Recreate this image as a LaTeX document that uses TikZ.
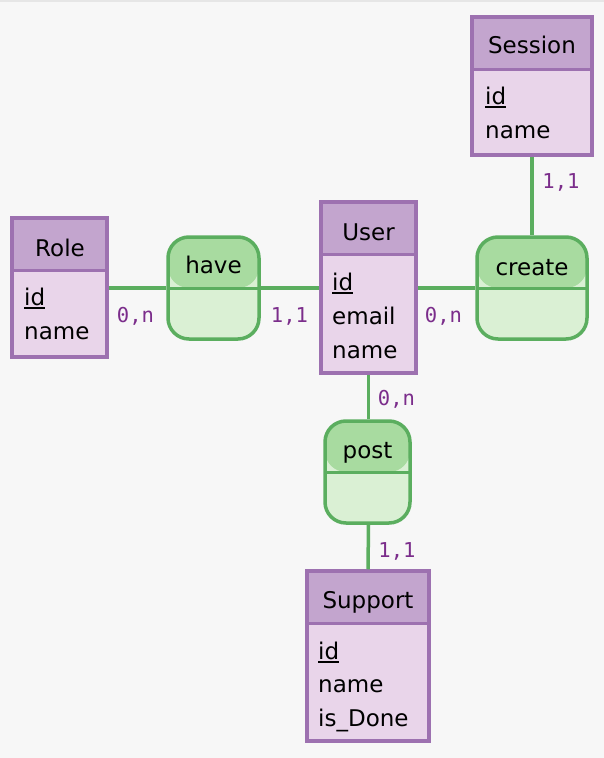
\documentclass[tikz,border=0pt]{standalone}
\usepackage{fontspec}
\setmainfont{DejaVu Sans}
\newfontfamily\monof{DejaVu Sans Mono}
\usetikzlibrary{calc}
\definecolor{bgc}{HTML}{F7F7F7}
\definecolor{bgedge}{HTML}{E6E6E6}
\definecolor{enthead}{HTML}{C3A5CE}
\definecolor{entbody}{HTML}{E9D5EA}
\definecolor{entline}{HTML}{9D71B0}
\definecolor{relhead}{HTML}{A8DBA0}
\definecolor{relbody}{HTML}{DAF0D4}
\definecolor{relline}{HTML}{5BAE5F}
\definecolor{cardc}{HTML}{7B2D8B}
\newcommand\ulid[1]{\setbox0\hbox{#1}\rlap{\rule[-3.5pt]{\wd0}{1.8pt}}\box0}
\tikzset{
  entity/.style={draw=entline, line width=3.5pt, fill=entbody, rectangle, inner sep=0pt,
    path picture={\fill[enthead] (path picture bounding box.north west) rectangle ($(path picture bounding box.north east)+(0,52)$);
      \draw[entline, line width=3pt] ($(path picture bounding box.north west)+(0,52)$) -- ($(path picture bounding box.north east)+(0,52)$);}},
  rel/.style={draw=relline, line width=3.5pt, fill=relbody, rectangle, rounded corners=21pt, inner sep=0pt,
    path picture={\fill[relhead] (path picture bounding box.north west) rectangle (path picture bounding box.east);
      \draw[relline, line width=3pt] (path picture bounding box.west) -- (path picture bounding box.east);}},
  txt/.style={inner sep=0pt, font=\fontsize{23}{28}\selectfont, text=black},
  ttl/.style={txt, anchor=base},
  attr/.style={txt, anchor=base west},
  card/.style={inner sep=0pt, anchor=base, font=\monof\fontsize{20.5}{24}\selectfont, text=cardc},
  link/.style={draw=relline, line width=3.5pt}
}
\begin{document}
\begin{tikzpicture}[x=1pt,y=-1pt]
\fill[bgc] (0,0) rectangle (604,758);
\fill[bgedge] (0,0) rectangle (604,2);
\useasboundingbox (0,0) rectangle (604,758);

% entities
\node[entity, minimum width=95pt, minimum height=139pt] (role) at (59.5,287.5) {};
\node[entity, minimum width=95pt, minimum height=171pt] (user) at (368.5,287.5) {};
\node[entity, minimum width=120pt, minimum height=138pt] (session) at (532,86) {};
\node[entity, minimum width=122pt, minimum height=170pt] (support) at (368,656) {};

% relations
\node[rel, minimum width=91pt, minimum height=102pt] (have) at (213.5,288) {};
\node[rel, minimum width=110pt, minimum height=102pt] (create) at (532,288) {};
\node[rel, minimum width=85pt, minimum height=102pt] (post) at (367.5,472) {};

% connectors
\draw[link] (role.east |- have.west) -- (have.west);
\draw[link] (have.east) -- (have.east -| user.west);
\draw[link] (create.west -| user.east) -- (create.west);
\draw[link] (session.south) -- (create.north);
\draw[link] (user.south) -- (user.south |- post.north);
\draw[link] (user.south |- post.south) -- (support.north);

% entity texts
\node[ttl] (roleT) at (60,256) {Role};
\node[attr] (roleA1) at (24,305) {\ulid{id}};
\node[attr] (roleA2) at (24,339) {name};

\node[ttl] (userT) at (368.5,240) {User};
\node[attr] (userA1) at (332,290) {\ulid{id}};
\node[attr] (userA2) at (332,324) {email};
\node[attr] (userA3) at (332,358) {name};

\node[ttl] (sessT) at (532,53) {Session};
\node[attr] (sessA1) at (485,104) {\ulid{id}};
\node[attr] (sessA2) at (485,138) {name};

\node[ttl] (suppT) at (368,608) {Support};
\node[attr] (suppA1) at (318,659) {\ulid{id}};
\node[attr] (suppA2) at (318,692) {name};
\node[attr] (suppA3) at (318,726) {is\_Done};

% relation texts
\node[ttl] (haveT) at (213.5,273) {have};
\node[ttl] (createT) at (532,275) {create};
\node[ttl] (postT) at (367.5,458) {post};

% cardinalities
\node[card] (c1) at (135.5,322) {0,n};
\node[card] (c2) at (289.5,322) {1,1};
\node[card] (c3) at (443.5,322) {0,n};
\node[card] (c4) at (561,188) {1,1};
\node[card] (c5) at (396.5,405) {0,n};
\node[card] (c6) at (397,557) {1,1};
\end{tikzpicture}
\end{document}
